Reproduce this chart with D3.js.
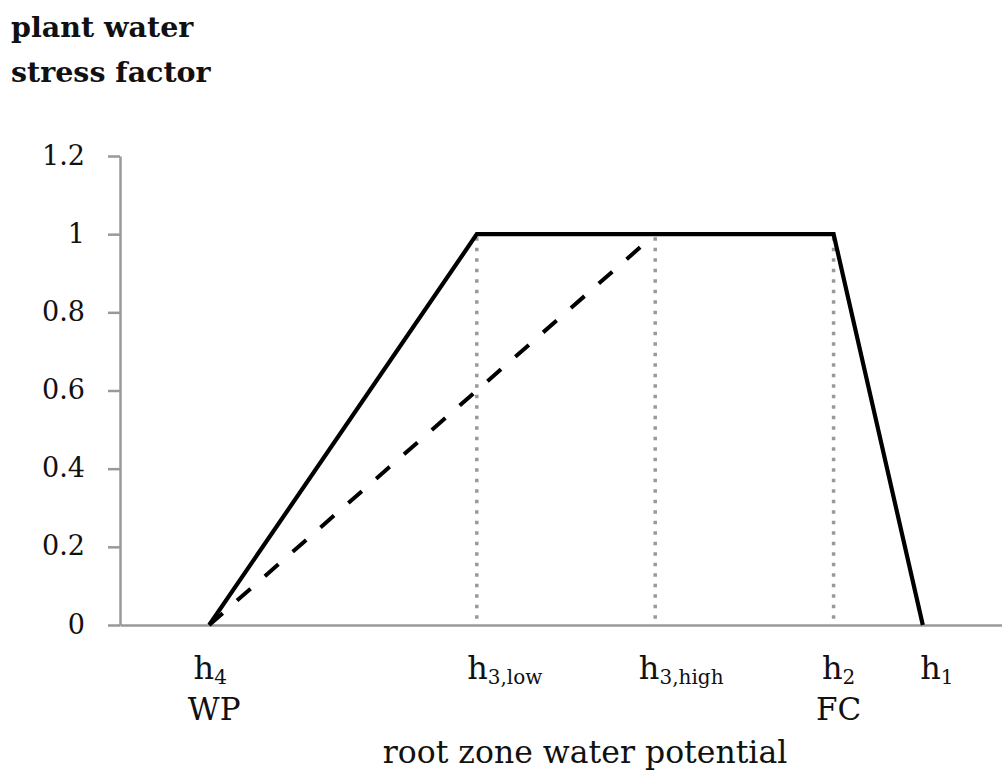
<!DOCTYPE html>
<html lang="en">

<head>
    <meta charset="utf-8">
    <title>Plant water stress factor</title>
    <script type="text/javascript" src="https://cdn.jsdelivr.net/npm/d3@7/dist/d3.min.js"></script>
    <style>
        body { margin: 0; background: #fff; }
        text { font-family: "DejaVu Serif", serif; fill: #111; }
    </style>
</head>

<body>

    <script type="text/javascript">
        // positions of the pressure heads along the (unitless) x axis
        var headNames = ["h4", "h3,low", "h3,high", "h2", "h1"];
        var headMain = ["h", "h", "h", "h", "h"];
        var headSub = ["4", "3,low", "3,high", "2", "1"];
        var headNote = ["WP", "", "", "FC", ""];
        var headX = [1, 4, 6, 8, 9];

        // solid curve: h4 -> h3,low -> h2 -> h1
        var solidX = [1, 4, 8, 9];
        var solidY = [0, 1, 1, 0];

        // dashed curve: h4 -> h3,high
        var dashedX = [1, 6];
        var dashedY = [0, 1];

        // dotted verticals at h3,low, h3,high, h2
        var dottedX = [4, 6, 8];

        var yTicks = [0, 0.2, 0.4, 0.6, 0.8, 1, 1.2];
        var yTickLabels = ["0", "0.2", "0.4", "0.6", "0.8", "1", "1.2"];

        var w = 1002;
        var h = 774;

        var svg = d3.select("body")
            .append("svg")
            .attr("width", w)
            .attr("height", h);

        var x = d3.scaleLinear().domain([0, 10]).range([120, 1012]);
        var y = d3.scaleLinear().domain([0, 1.2]).range([625, 156]);

        // titles
        svg.append("text")
            .attr("x", 11).attr("y", 37)
            .attr("font-size", "28.5px").attr("font-weight", "bold")
            .text("plant water");
        svg.append("text")
            .attr("x", 11).attr("y", 82)
            .attr("font-size", "28.5px").attr("font-weight", "bold")
            .text("stress factor");

        // y axis
        var yAxis = d3.axisLeft(y)
            .tickValues(yTicks)
            .tickFormat(function(d, i) { return yTickLabels[i]; })
            .tickSize(12)
            .tickSizeOuter(0)
            .tickPadding(23);

        var gy = svg.append("g")
            .attr("transform", "translate(120,0)")
            .call(yAxis);
        gy.selectAll("path, line").attr("stroke", "#999").attr("stroke-width", 2.5);
        gy.selectAll("text")
            .attr("font-family", "DejaVu Serif, serif")
            .attr("font-size", "27px")
            .attr("fill", "#111")
            .attr("dy", "0.3em");

        // x axis (just the baseline)
        var xAxis = d3.axisBottom(x).tickValues([]).tickSizeOuter(0);
        var gx = svg.append("g")
            .attr("transform", "translate(0,625)")
            .call(xAxis);
        gx.select("path").attr("stroke", "#999").attr("stroke-width", 2.5);

        // dotted reference lines
        svg.selectAll("line.ref")
            .data(dottedX)
            .enter()
            .append("line")
            .attr("class", "ref")
            .attr("x1", function(d) { return x(d); })
            .attr("x2", function(d) { return x(d); })
            .attr("y1", y(1) + 3)
            .attr("y2", y(0) - 4)
            .attr("stroke", "#999")
            .attr("stroke-width", 3.5)
            .attr("stroke-dasharray", "3.5,7");

        var line = d3.line()
            .x(function(d) { return x(d[0]); })
            .y(function(d) { return y(d[1]); });

        // dashed curve
        svg.append("path")
            .datum(d3.zip(dashedX, dashedY))
            .attr("d", line)
            .attr("fill", "none")
            .attr("stroke", "#000")
            .attr("stroke-width", 4)
            .attr("stroke-dasharray", "18,19");

        // solid curve
        svg.append("path")
            .datum(d3.zip(solidX, solidY))
            .attr("d", line)
            .attr("fill", "none")
            .attr("stroke", "#000")
            .attr("stroke-width", 4.2)
            .attr("stroke-linejoin", "miter");

        // head labels
        var labelOffset = [1, 28, 26, 5, 14];
        var labels = svg.selectAll("text.head")
            .data(headNames)
            .enter()
            .append("text")
            .attr("class", "head")
            .attr("x", function(d, i) { return x(headX[i]) + labelOffset[i]; })
            .attr("y", 679)
            .attr("text-anchor", "middle")
            .attr("font-size", "32px");
        labels.append("tspan")
            .text(function(d, i) { return headMain[i]; });
        labels.append("tspan")
            .attr("font-size", "20px")
            .attr("dy", 5)
            .text(function(d, i) { return headSub[i]; });

        svg.selectAll("text.note")
            .data(headNote)
            .enter()
            .append("text")
            .attr("class", "note")
            .attr("x", function(d, i) { return x(headX[i]) + 5; })
            .attr("y", 720)
            .attr("text-anchor", "middle")
            .attr("font-size", "31px")
            .text(function(d) { return d; });

        svg.append("text")
            .attr("x", 585).attr("y", 763)
            .attr("text-anchor", "middle")
            .attr("font-size", "31.5px")
            .text("root zone water potential");
    </script>
</body>

</html>
